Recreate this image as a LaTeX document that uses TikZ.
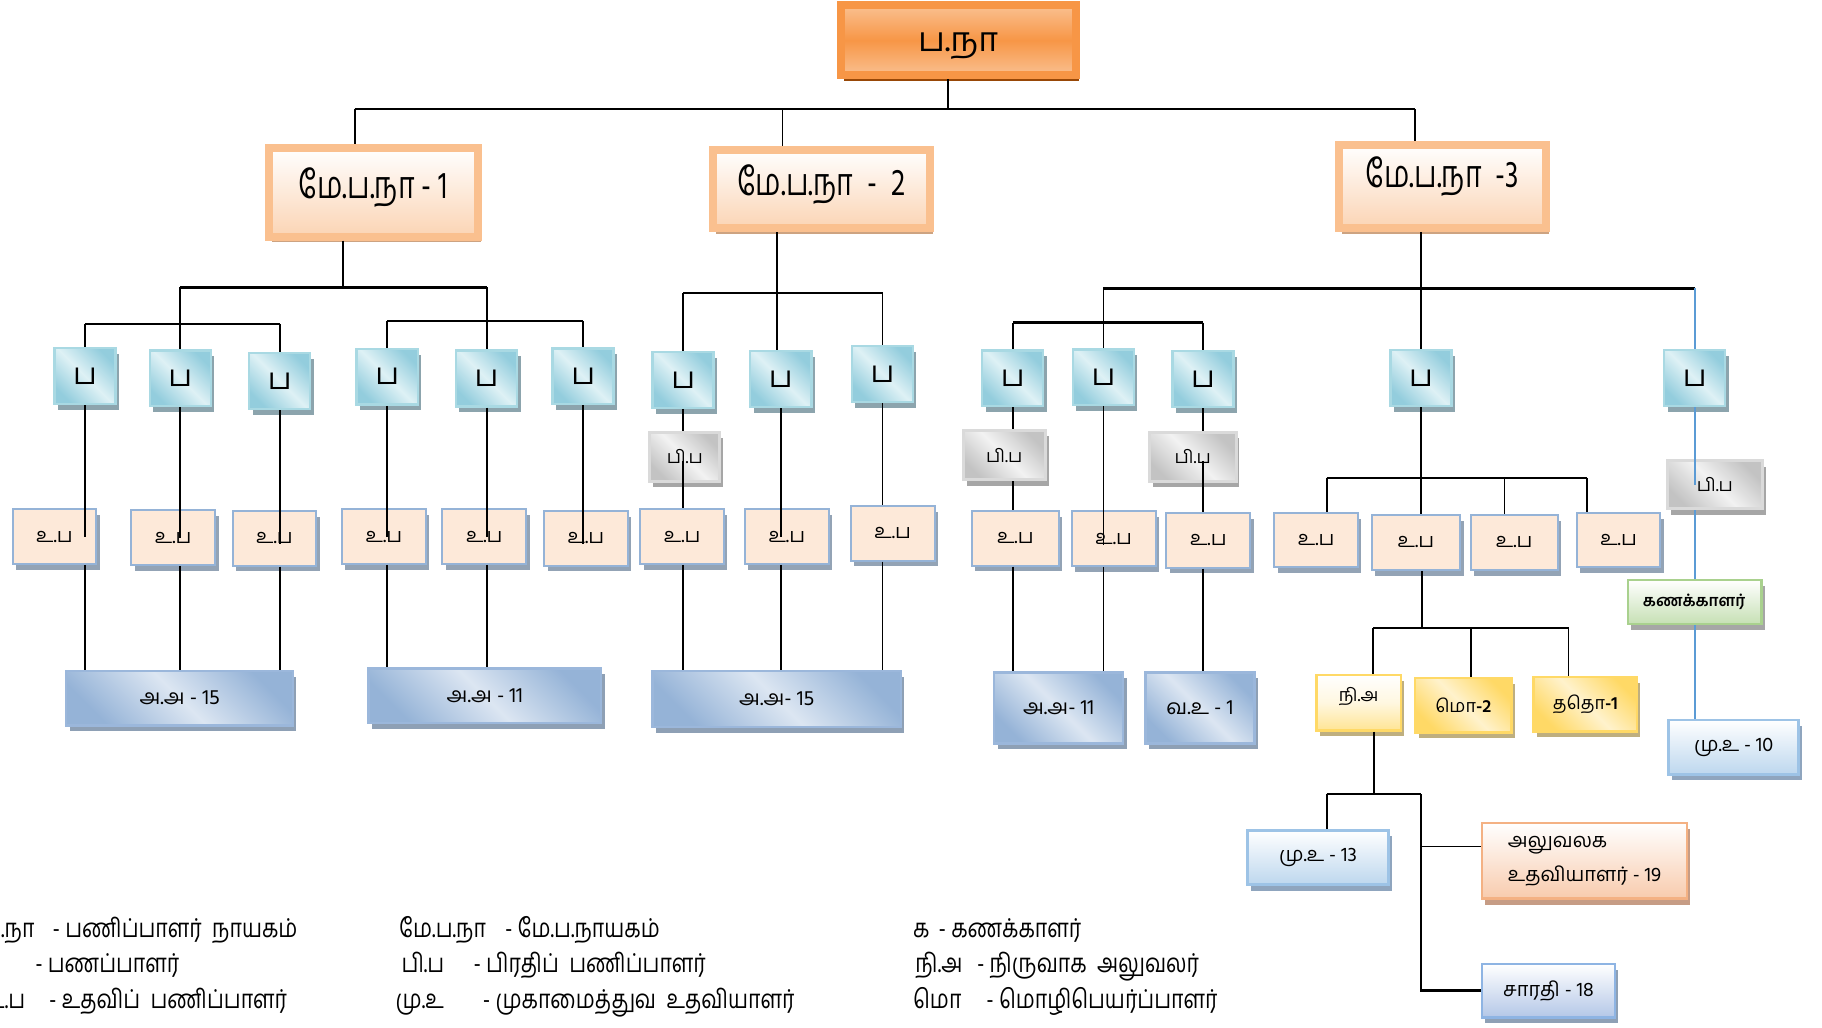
\documentclass[tikz,border=0pt]{standalone}
\usepackage{fontspec}
\usetikzlibrary{shadows}
\newfontfamily\tam[Script=Tamil]{Hind Madurai}
\newfontfamily\tamc[Script=Tamil,FakeStretch=0.82]{Hind Madurai}
\newfontfamily\tamn[Script=Tamil,FakeStretch=0.75]{Hind Madurai}

\definecolor{leadframe}{HTML}{F79646}
\definecolor{leadlight}{HTML}{FAC090}
\definecolor{leadshadow}{HTML}{984807}
\definecolor{mepframe}{HTML}{FAC08F}
\definecolor{mepbottom}{HTML}{FBD4B4}
\definecolor{mepshadow}{HTML}{CDA381}
\definecolor{tealdark}{HTML}{93CDDD}
\definecolor{teallight}{HTML}{DEF1F5}
\definecolor{tealframe}{HTML}{A9D9E3}
\definecolor{tealshadow}{HTML}{8CA4AD}
\definecolor{upafill}{HTML}{FDE9D9}
\definecolor{upaframe}{HTML}{95B3D7}
\definecolor{upashadow}{HTML}{93A3B5}
\definecolor{graydark}{HTML}{C3C3C3}
\definecolor{graylight}{HTML}{F2F2F2}
\definecolor{grayframe}{HTML}{DADADA}
\definecolor{grayshadow}{HTML}{A6A6A6}
\definecolor{bluedark}{HTML}{95B3D7}
\definecolor{bluelight}{HTML}{DCE6F2}
\definecolor{blueframe}{HTML}{9BB7DB}
\definecolor{blueshadow}{HTML}{8EA0B5}
\definecolor{yelframe}{HTML}{FFD966}
\definecolor{yellight}{HTML}{FFF2CC}
\definecolor{yelshadow}{HTML}{BFAF7F}
\definecolor{greenframe}{HTML}{A9D18E}
\definecolor{greenbottom}{HTML}{C6E0B4}
\definecolor{muframe}{HTML}{9DC3E6}
\definecolor{mubottom}{HTML}{BDD7EE}
\definecolor{mushadow}{HTML}{8FA5BE}
\definecolor{alframe}{HTML}{F4B183}
\definecolor{albottom}{HTML}{F8CBAD}
\definecolor{alshadow}{HTML}{C69C85}
\definecolor{saframe}{HTML}{8EB4E3}
\definecolor{sabottom}{HTML}{B4C7E7}
\definecolor{blueline}{HTML}{5B9BD5}

\newcommand{\upx}{0.5815pt}

\tikzset{
  conn/.style={line width=0.9pt},
  bus/.style={line width=1.3pt},
  blueconn/.style={draw=blueline, line width=0.8pt},
  boxshadow/.style={drop shadow={shadow xshift=1.7pt, shadow yshift=-2.9pt, fill=#1, opacity=1}},
  diag/.style 2 args={top color=#1, bottom color=#1, middle color=#2, shading angle=-45},
  vert/.style={top color=white, bottom color=#1},
  boxbase/.style={inner sep=1pt, align=center, font=\tam\fontsize{9}{11}\selectfont},
  leadbox/.style={boxbase, draw=leadframe, line width=4pt, top color=leadlight, bottom color=leadlight,
    middle color=leadframe, boxshadow=leadshadow, minimum width=202*\upx, minimum height=60*\upx,
    font=\tam\fontsize{17}{20}\selectfont},
  mepbox/.style={boxbase, draw=mepframe, line width=4pt, vert=mepbottom, boxshadow=mepshadow,
    font=\tamn\fontsize{19}{22}\selectfont},
  pbox/.style={boxbase, draw=tealframe, line width=1.2pt, diag={tealdark}{teallight}, boxshadow=tealshadow,
    minimum width=52.5*\upx, minimum height=48*\upx, font=\tam\fontsize{15}{17}\selectfont},
  upbox/.style={boxbase, draw=upaframe, line width=1pt, fill=upafill, boxshadow=upashadow,
    minimum width=72*\upx, minimum height=47*\upx, font=\tam\fontsize{10}{12}\selectfont},
  pibox/.style={boxbase, draw=grayframe, line width=1.5pt, diag={graydark}{graylight}, boxshadow=grayshadow,
    minimum height=42.4*\upx},
  aabox/.style={boxbase, draw=blueframe, line width=1.2pt, diag={bluedark}{bluelight}, boxshadow=blueshadow,
    minimum height=47*\upx, font=\tam\fontsize{10.5}{12}\selectfont},
  yelbox/.style={boxbase, draw=yelframe, line width=1.3pt, diag={yelframe}{yellight}, boxshadow=yelshadow,
    minimum height=46.8*\upx},
  accbox/.style={boxbase, draw=greenframe, line width=1.3pt, vert=greenbottom, boxshadow=grayshadow,
    minimum width=114.8*\upx, minimum height=37.8*\upx, font=\tam\fontsize{8}{10}\selectfont},
  mubox/.style={boxbase, draw=muframe, line width=1.3pt, vert=mubottom, boxshadow=mushadow,
    minimum height=46.8*\upx, font=\tam\fontsize{10}{12}\selectfont},
  albox/.style={boxbase, draw=alframe, line width=1.3pt, vert=albottom, boxshadow=alshadow,
    minimum width=176.3*\upx, minimum height=65.3*\upx, align=left, font=\tam\fontsize{10}{17}\selectfont},
  sabox/.style={boxbase, draw=saframe, line width=1.3pt, vert=sabottom, boxshadow=blueshadow,
    minimum width=114.3*\upx, minimum height=45.8*\upx, font=\tam\fontsize{10}{12}\selectfont},
  legend/.style={inner sep=0pt, font=\tamc\fontsize{13}{15}\selectfont},
}

\begin{document}
\begin{tikzpicture}[x=\upx, y=-\upx]
\useasboundingbox (0,0) rectangle (1567,883.3);

% Head
\node[leadbox] (pn) at (824,34.7) {\raisebox{-5.5pt}[0pt][0pt]{ப.நா}};

% Deputy heads
\node[mepbox, minimum width=180*\upx, minimum height=76*\upx] (mep1) at (321,165.4) {\raisebox{9pt}{மே.ப.நா - 1}};
\node[mepbox, minimum width=186.6*\upx, minimum height=67.5*\upx] (mep2) at (706.3,162.5) {\raisebox{9pt}{மே.ப.நா~~-~~2}};
\node[mepbox, minimum width=178*\upx, minimum height=71.6*\upx] (mep3) at (1240.5,160.5) {\raisebox{15pt}{மே.ப.நா~~-3}};

% Staff
\node[pbox] (p1) at (73,323.3) {ப};
\node[pbox] (p2) at (155,325.4) {ப};
\node[pbox] (p3) at (240.5,327.6) {ப};
\node[pbox] (p4) at (333,324) {ப};
\node[pbox] (p5) at (418.5,325.6) {ப};
\node[pbox] (p6) at (501.5,323.6) {ப};
\node[pbox] (p7) at (587.5,326.7) {ப};
\node[pbox] (p8) at (671.5,326) {ப};
\node[pbox] (p9) at (759,321.6) {ப};
\node[pbox] (p10) at (871,325.3) {ப};
\node[pbox] (p11) at (949,324.5) {ப};
\node[pbox] (p12) at (1034.5,326) {ப};
\node[pbox] (p13) at (1222,325) {ப};
\node[pbox] (p14) at (1457.5,325) {ப};

% Deputy staff
\node[pibox, minimum width=60.4*\upx] (pa) at (589,393) {பி.ப};
\node[pibox, minimum width=70.4*\upx] (pb) at (863.7,391.5) {பி.ப};
\node[pibox, minimum width=74.4*\upx] (pc) at (1025.8,393) {பி.ப};
\node[pibox, minimum width=81.4*\upx, minimum height=41.4*\upx] (pd) at (1474.9,417) {பி.ப};

% Assistant staff
\node[upbox] (u1) at (46.8,461.5) {உ.ப};
\node[upbox] (u2) at (149,462.3) {உ.ப};
\node[upbox] (u3) at (236,463) {உ.ப};
\node[upbox] (u4) at (330.2,461.5) {உ.ப};
\node[upbox] (u5) at (416.5,461.5) {உ.ப};
\node[upbox] (u6) at (504,463) {உ.ப};
\node[upbox] (u7) at (586.7,461.5) {உ.ப};
\node[upbox] (u8) at (676.7,461.5) {உ.ப};
\node[upbox] (u9) at (767.8,458.6) {உ.ப};
\node[upbox, minimum width=75*\upx] (u10) at (873.2,462.9) {உ.ப};
\node[upbox] (u11) at (957.8,463.4) {உ.ப};
\node[upbox] (u12) at (1039.2,464.6) {உ.ப};
\node[upbox] (u13) at (1132,464.5) {உ.ப};
\node[upbox, minimum width=76*\upx] (u14) at (1217.8,466.5) {உ.ப};
\node[upbox, minimum width=75*\upx] (u15) at (1302.2,466.5) {உ.ப};
\node[upbox] (u16) at (1392,464.5) {உ.ப};

% Officers
\node[aabox, minimum width=195*\upx] (A1) at (154.5,600.5) {அ.அ - 15};
\node[aabox, minimum width=200*\upx] (A2) at (417,598.5) {அ.அ - 11};
\node[aabox, minimum width=213.5*\upx, minimum height=48*\upx] (A3) at (668,601) {அ.அ- 15};
\node[aabox, minimum width=111*\upx, minimum height=61*\upx] (A4) at (910.5,609) {அ.அ- 11};
\node[aabox, minimum width=93.6*\upx, minimum height=61*\upx] (A5) at (1032,609) {வ.உ - 1};

% Accounts and administration
\node[accbox] (gr) at (1457.5,517.8) {\textbf{கணக்காளர்}};
\node[yelbox, minimum width=72.8*\upx, minimum height=47.8*\upx, top color=white, bottom color=yelframe!70, middle color=yellight!60] (ya) at (1168.5,604.3) {\raisebox{8pt}{நி.அ}};
\node[yelbox, minimum width=82.8*\upx] (yb) at (1258.5,606.5) {மொ\textbf{-2}};
\node[yelbox, minimum width=88.8*\upx] (yc) at (1363.5,605.5) {ததொ\textbf{-1}};
\node[mubox, minimum width=111.8*\upx] (mu10) at (1491,642.5) {மு.உ - 10};
\node[mubox, minimum width=120.8*\upx] (mu13) at (1133.5,737.5) {மு.உ - 13};
\node[albox] (al) at (1362.8,740.3) {அலுவலக\\உதவியாளர் - 19};
\node[sabox] (sa) at (1331.8,852) {சாரதி - 18};

% Head to deputy heads
\coordinate (b0) at (815,94);
\coordinate (b0l) at (305,94);
\coordinate (b0m) at (673,94);
\coordinate (b0r) at (1217,94);
\draw[conn] (pn.south -| b0) -- (b0);
\draw[conn] (b0l) -- (b0r);
\draw[conn] (b0l) -- (b0l |- mep1.north);
\draw[conn] (b0m) -- (b0m |- mep2.north);
\draw[conn] (b0r) -- (b0r |- mep3.north);

% Deputy head 1
\coordinate (m1) at (295,247);
\coordinate (s1) at (155,278.6);
\coordinate (s2) at (418,276);
\draw[conn] (m1 |- mep1.south) -- (m1);
\draw[bus] (m1 -| p2) -- (m1 -| p5);
\draw[conn] (m1 -| p2) -- (p2.north);
\draw[conn] (m1 -| p5) -- (p5.north);
\draw[bus] (s1 -| p1) -- (s1 -| p3);
\draw[conn] (s1 -| p1) -- (p1.north);
\draw[conn] (s1 -| p3) -- (p3.north);
\draw[bus] (s2 -| p4) -- (s2 -| p6);
\draw[conn] (s2 -| p4) -- (p4.north);
\draw[conn] (s2 -| p6) -- (p6.north);

% Deputy head 2
\coordinate (m2) at (668,252);
\draw[conn] (m2 |- mep2.south) -- (m2);
\draw[bus] (m2 -| p7) -- (m2 -| p9);
\draw[conn] (m2 -| p7) -- (p7.north);
\draw[conn] (m2) -- (m2 |- p8.north);
\draw[conn] (m2 -| p9) -- (p9.north);

% Deputy head 3
\coordinate (m3) at (1222,248);
\coordinate (s3) at (949,277.5);
\draw[conn] (m3 |- mep3.south) -- (p13.north);
\draw[bus] (m3 -| p11) -- (m3 -| p14);
\draw[conn] (m3 -| p11) -- (p11.north);
\draw[blueconn] (m3 -| p14) -- (p14.north);
\draw[bus] (s3 -| p10) -- (s3 -| p12);
\draw[conn] (s3 -| p10) -- (p10.north);
\draw[conn] (s3 -| p12) -- (p12.north);

% Columns down to the officers
\draw[conn] (p1.south) -- (p1.south |- u1.center);
\draw[conn] (p1.south |- u1.south) -- (p1.south |- A1.north);
\draw[conn] (p2.south) -- (p2.south |- u2.center);
\draw[conn] (p2.south |- u2.south) -- (p2.south |- A1.north);
\draw[conn] (p3.south) -- ([yshift=-3pt]p3.south |- u3.center);
\draw[conn] (p3.south |- u3.south) -- (p3.south |- A1.north);
\draw[conn] (p4.south) -- (p4.south |- u4.center);
\draw[conn] (p4.south |- u4.south) -- (p4.south |- A2.north);
\draw[conn] (p5.south) -- (p5.south |- u5.center);
\draw[conn] (p5.south |- u5.south) -- (p5.south |- A2.north);
\draw[conn] (p6.south) -- ([yshift=-3pt]p6.south |- u6.center);
\draw[conn] (p7.south) -- (p7.south |- pa.north);
\draw[conn] ([yshift=-2pt]p7.south |- pa.center) -- (p7.south |- u7.north);
\draw[conn] (p7.south |- u7.south) -- (p7.south |- A3.north);
\draw[conn] (p8.south) -- (p8.south |- u8.center);
\draw[conn] (p8.south |- u8.south) -- (p8.south |- A3.north);
\draw[conn] (p9.south) -- (p9.south |- u9.north);
\draw[conn] (p9.south |- u9.south) -- (p9.south |- A3.north);
\draw[conn] (p10.south) -- (p10.south |- pb.north);
\draw[conn] (p10.south |- pb.south) -- (p10.south |- u10.north);
\draw[conn] (p10.south |- u10.south) -- (p10.south |- A4.north);
\draw[conn] (p11.south) -- ([yshift=-3pt]p11.south |- u11.center);
\draw[conn] (p11.south |- u11.south) -- (p11.south |- A4.north);
\draw[conn] (p12.south) -- (p12.south |- pc.north);
\draw[conn] ([yshift=-2pt]p12.south |- pc.center) -- (p12.south |- u12.north);
\draw[conn] (p12.south |- u12.south) -- (p12.south |- A5.north);

% Staff 13: assistants and administration
\coordinate (s4l) at (1141,411);
\coordinate (s4m) at (1294,411);
\coordinate (s4r) at (1365,411);
\draw[conn] (p13.south) -- (p13.south |- u14.north);
\draw[bus] (s4l) -- (s4r);
\draw[conn] (s4l) -- (s4l |- u13.north);
\draw[conn] (s4m) -- (s4m |- u15.north);
\draw[conn] (s4r) -- (s4r |- u16.north);
\coordinate (s5) at (1223,540);
\draw[conn] (s5 |- u14.south) -- (s5);
\draw[bus] (1181,540) coordinate (s5l) -- (1349,540) coordinate (s5r);
\draw[conn] (s5l) -- (s5l |- ya.north);
\draw[conn] (1265,540) coordinate (s5m) -- (s5m |- yb.north);
\draw[conn] (s5r) -- (s5r |- yc.north);

% Administrative officer
\coordinate (s6) at (1182,683);
\coordinate (s6l) at (1141,683);
\coordinate (s6r) at (1222,683);
\coordinate (alj) at (1222,728);
\draw[conn] (s6 |- ya.south) -- (s6);
\draw[bus] (s6l) -- (s6r);
\draw[conn] (s6l) -- (s6l |- mu13.north);
\draw[bus] (s6r) |- (sa.west);
\draw[conn] (alj) -- (alj -| al.west);

% Staff 14
\draw[blueconn] (p14.south) -- (p14.south |- pd.center);
\draw[blueconn] (p14.south |- pd.south) -- (gr.north);
\draw[blueconn] (gr.south) -- (gr.south |- mu10.north);

% Legend
\node[legend, anchor=base east] (k1) at (30,806) {ப.நா};
\node[legend, anchor=base west] (d1) at (45,806) {- பணிப்பாளர்~~நாயகம்};
\node[legend, anchor=base west] (d2) at (30,836) {- பணப்பாளர்};
\node[legend, anchor=base east] (k3) at (22,867) {உ.ப};
\node[legend, anchor=base west] (d3) at (42,867) {- உதவிப்~~பணிப்பாளர்};
\node[legend, anchor=base west] (k4) at (343,806) {மே.ப.நா};
\node[legend, anchor=base west] (d4) at (434,806) {- மே.ப.நாயகம்};
\node[legend, anchor=base west] (k5) at (345,836) {பி.ப};
\node[legend, anchor=base west] (d5) at (407,836) {- பிரதிப்~~பணிப்பாளர்};
\node[legend, anchor=base west] (k6) at (340,867) {மு.உ};
\node[legend, anchor=base west] (d6) at (415,867) {- முகாமைத்துவ~~உதவியாளர்};
\node[legend, anchor=base west] (k7) at (785,806) {க};
\node[legend, anchor=base west] (d7) at (807,806) {- கணக்காளர்};
\node[legend, anchor=base west] (k8) at (787,836) {நி.அ};
\node[legend, anchor=base west] (d8) at (840,836) {- நிருவாக~~அலுவலர்};
\node[legend, anchor=base west] (k9) at (785,867) {மொ};
\node[legend, anchor=base west] (d9) at (848,867) {- மொழிபெயர்ப்பாளர்};
\end{tikzpicture}
\end{document}
